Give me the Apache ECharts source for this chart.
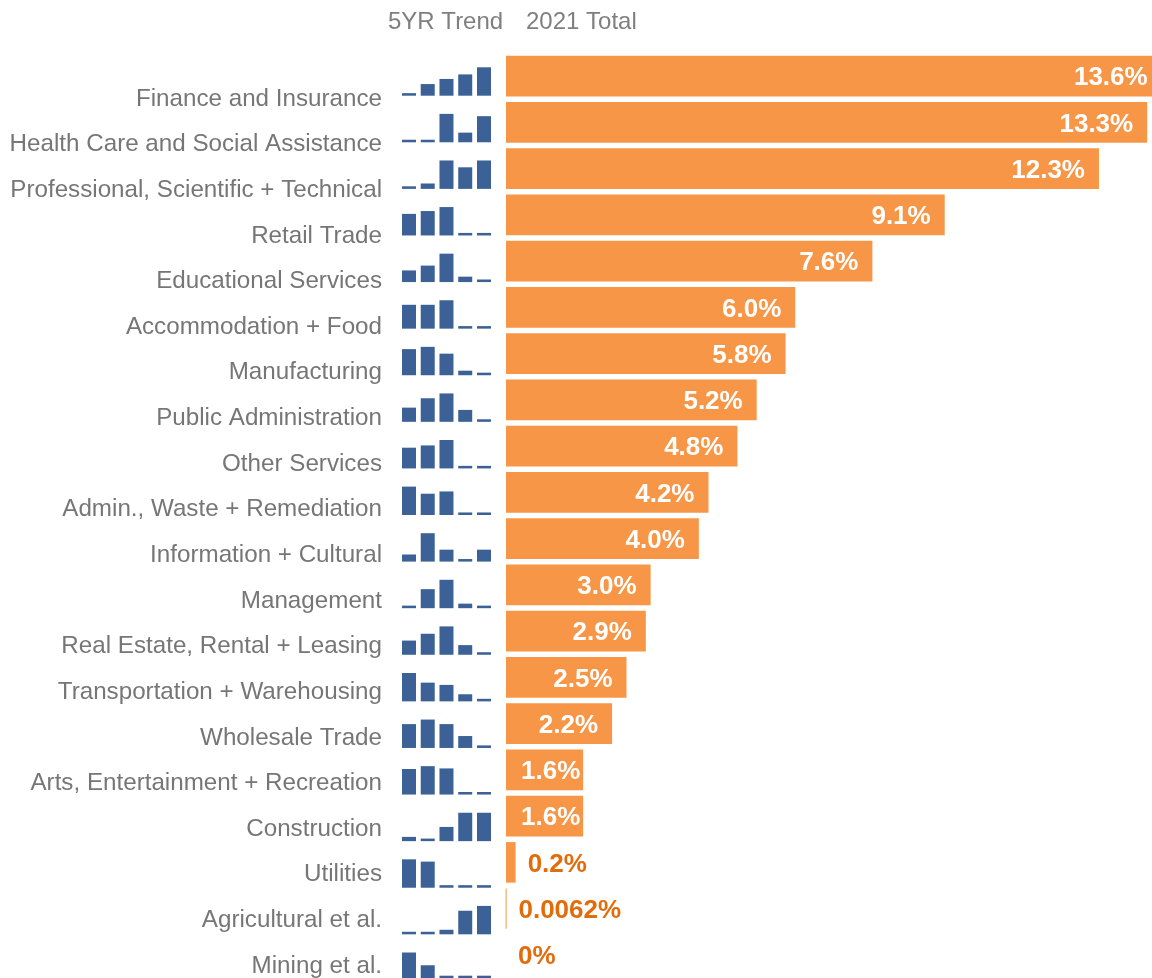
<!DOCTYPE html>
<html>
<head>
<meta charset="utf-8">
<script src="https://cdn.jsdelivr.net/npm/echarts@6/dist/echarts.min.js"></script>
<style>
  html, body { margin: 0; padding: 0; background: #fff; }
  #chart { width: 1152px; height: 978px; }
</style>
</head>
<body>
<div id="chart"></div>
<script>
  // industries, top to bottom
  var categories = [
    'Finance and Insurance', 'Health Care and Social Assistance', 'Professional, Scientific + Technical',
    'Retail Trade', 'Educational Services', 'Accommodation + Food', 'Manufacturing',
    'Public Administration', 'Other Services', 'Admin., Waste + Remediation', 'Information + Cultural',
    'Management', 'Real Estate, Rental + Leasing', 'Transportation + Warehousing', 'Wholesale Trade',
    'Arts, Entertainment + Recreation', 'Construction', 'Utilities', 'Agricultural et al.', 'Mining et al.'
  ]
  // 2021 share of total (%)
  var totals = [13.6, 13.3, 12.3, 9.1, 7.6, 6.0, 5.8, 5.2, 4.8, 4.2, 4.0, 3.0, 2.9, 2.5, 2.2, 1.6, 1.6, 0.2, 0.0062, 0]
  var totalLabels = ['13.6%', '13.3%', '12.3%', '9.1%', '7.6%', '6.0%', '5.8%', '5.2%', '4.8%', '4.2%', '4.0%',
    '3.0%', '2.9%', '2.5%', '2.2%', '1.6%', '1.6%', '0.2%', '0.0062%', '0%']
  // 5 year trend, each row relative to its own max
  var trendYears = ['2017', '2018', '2019', '2020', '2021']
  var trend = [
    [0.09, 0.41, 0.59, 0.75, 1],
    [0.09, 0.09, 1, 0.34, 0.92],
    [0.09, 0.19, 1, 0.76, 1],
    [0.76, 0.86, 1, 0.09, 0.09],
    [0.41, 0.58, 1, 0.19, 0.09],
    [0.84, 0.84, 1, 0.09, 0.09],
    [0.92, 1, 0.76, 0.16, 0.09],
    [0.5, 0.83, 1, 0.42, 0.09],
    [0.73, 0.81, 1, 0.09, 0.09],
    [1, 0.75, 0.83, 0.09, 0.09],
    [0.25, 1, 0.42, 0.09, 0.42],
    [0.09, 0.67, 1, 0.16, 0.09],
    [0.5, 0.74, 1, 0.34, 0.09],
    [1, 0.66, 0.58, 0.25, 0.09],
    [0.84, 1, 0.84, 0.42, 0.09],
    [0.9, 1, 0.92, 0.09, 0.09],
    [0.15, 0.09, 0.5, 1, 1],
    [1, 0.92, 0.09, 0.09, 0.09],
    [0.09, 0.09, 0.16, 0.83, 1],
    [1, 0.5, 0.09, 0.09, 0.09]
  ]

  var fontFamily = '"Liberation Sans", Arial, sans-serif'
  var orange = '#f79646'
  var darkOrange = '#e36c0a'
  var blue = '#3b6196'
  var grey = '#767676'

  var chart = echarts.init(document.getElementById('chart'))

  // grid 0: main bars (13.6% runs past the right edge), grid 1: industry names
  var grids = [
    {left: 506, right: 0, top: 53, height: 927},
    {left: 390, width: 10, top: 99, height: 868}
  ]
  var xAxes = [
    {gridIndex: 0, type: 'value', min: 0, max: 13.4, show: false},
    {gridIndex: 1, type: 'value', show: false}
  ]
  var yAxes = [
    {gridIndex: 0, type: 'category', inverse: true, data: categories, show: false},
    {
      gridIndex: 1, type: 'category', inverse: true, boundaryGap: false, data: categories,
      axisLine: {show: false}, axisTick: {show: false}, splitLine: {show: false},
      axisLabel: {margin: 8, fontSize: 24.2, color: grey, fontFamily: fontFamily, interval: 0}
    }
  ]

  var mainData = totals.map(function (v, i) {
    var label
    if (v >= 2) {
      label = {show: true, position: 'insideRight', distance: 14, color: '#fff'}
    } else if (v >= 1) {
      label = {show: true, position: 'insideLeft', distance: 15, color: '#fff'}
    } else {
      label = {show: true, position: 'right', distance: 12, color: darkOrange}
    }
    var item = {value: v, label: label}
    if (v > 0 && v < 0.05) {
      item.itemStyle = {borderColor: orange, borderWidth: 0.6}
    }
    return item
  })

  var series = [{
    type: 'bar',
    xAxisIndex: 0,
    yAxisIndex: 0,
    data: mainData,
    clip: false,
    barCategoryGap: '12.4%',
    itemStyle: {color: orange},
    label: {
      fontSize: 26,
      fontWeight: 'bold',
      fontFamily: fontFamily,
      offset: [0, 2],
      formatter: function (p) {
        return totalLabels[p.dataIndex]
      }
    },
    silent: true
  }]

  // sparklines, one small grid per row
  for (var i = 0; i < trend.length; i++) {
    var g = grids.length
    var base = 95.7 + i * 46.59
    grids.push({left: 399.6, width: 93.75, top: base - 28.4, height: 28.4})
    xAxes.push({gridIndex: g, type: 'category', data: trendYears, show: false})
    yAxes.push({gridIndex: g, type: 'value', min: 0, max: 1, show: false})
    series.push({
      type: 'bar',
      xAxisIndex: g,
      yAxisIndex: g,
      data: trend[i],
      barWidth: 14,
      itemStyle: {color: blue},
      silent: true
    })
  }

  chart.setOption({
    animation: false,
    title: [
      {text: '5YR Trend', left: 388, top: 10.5, padding: 0,
        textStyle: {fontSize: 24, fontWeight: 'normal', color: '#7f7f7f', fontFamily: fontFamily}},
      {text: '2021 Total', left: 526, top: 10.5, padding: 0,
        textStyle: {fontSize: 24, fontWeight: 'normal', color: '#7f7f7f', fontFamily: fontFamily}}
    ],
    grid: grids,
    xAxis: xAxes,
    yAxis: yAxes,
    series: series
  })
</script>
</body>
</html>
